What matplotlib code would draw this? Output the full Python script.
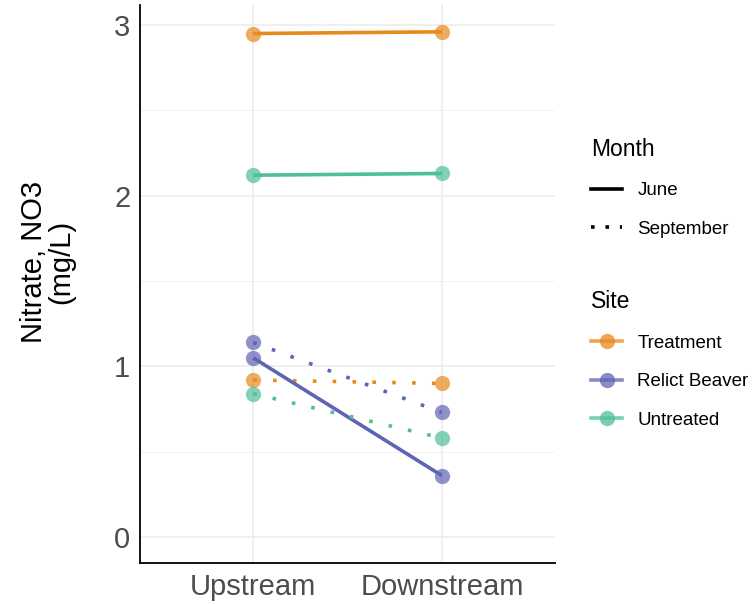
import numpy as np
import matplotlib.pyplot as plt
from matplotlib.lines import Line2D

plt.rcParams['font.family'] = ['Liberation Sans', 'DejaVu Sans']

positions = ['Upstream', 'Downstream']
sites = ['Treatment', 'Relict Beaver', 'Untreated']
colors = ['#E8891C', '#5F64B3', '#4FBF9A']

# nitrate (mg/L), [Upstream, Downstream]
june = {
    'Treatment': [2.95, 2.96],
    'Relict Beaver': [1.05, 0.36],
    'Untreated': [2.12, 2.13],
}
september = {
    'Treatment': [0.92, 0.90],
    'Relict Beaver': [1.14, 0.73],
    'Untreated': [0.84, 0.58],
}

fig = plt.figure(figsize=(7.54, 6.04), dpi=100)
ax = fig.add_axes([0.1857, 0.0679, 0.5504, 0.9238])

x = np.arange(1, len(positions) + 1)
dotted = (0, (1, 4.5))
for site, c in zip(sites, colors):
    ax.plot(x, september[site], color=c, lw=2.6, linestyle=dotted, zorder=3)
    ax.plot(x, september[site], 'o', color=c, ms=11, alpha=0.7, mec='none', zorder=4)
    ax.plot(x, june[site], color=c, lw=2.6, solid_capstyle='butt', zorder=3)
    ax.plot(x, june[site], 'o', color=c, ms=11, alpha=0.7, mec='none', zorder=4)

ax.set_xlim(0.4, 2.6)
ax.set_ylim(-0.152, 3.117)
ax.set_xticks(x)
ax.set_xticklabels(positions)
ax.set_yticks([0, 1, 2, 3])
ax.set_yticks([0.5, 1.5, 2.5], minor=True)
ax.tick_params(axis='both', length=0, labelsize=21, labelcolor='#4D4D4D', pad=7)
ax.tick_params(axis='y', which='minor', length=0)
ax.grid(True, which='major', color='#EBEBEB', lw=1.1)
ax.grid(True, which='minor', axis='y', color='#F2F2F2', lw=0.7)
ax.set_axisbelow(True)
for s in ['top', 'right']:
    ax.spines[s].set_visible(False)
for s in ['left', 'bottom']:
    ax.spines[s].set_linewidth(1.3)
    ax.spines[s].set_color('black')
ax.set_ylabel('Nitrate, NO3\n(mg/L)', fontsize=21, linespacing=1.0)
ax.yaxis.set_label_coords(-0.155, 0.54)

month_handles = [Line2D([], [], color='black', lw=2.6),
                 Line2D([], [], color='black', lw=2.6, linestyle=(0, (1, 3)))]
leg1 = fig.legend(month_handles, ['June', 'September'], title='Month',
                  loc='upper left', bbox_to_anchor=(0.762, 0.80),
                  frameon=False, fontsize=13.5, title_fontsize=16.5,
                  handlelength=1.65, handletextpad=0.8, labelspacing=1.15,
                  alignment='left')

site_handles = [Line2D([], [], color=c, lw=2.6, marker='o', ms=11,
                       markerfacecolor=c, mec='none', alpha=0.75) for c in colors]
leg2 = fig.legend(site_handles, sites, title='Site',
                  loc='upper left', bbox_to_anchor=(0.762, 0.548),
                  frameon=False, fontsize=13.5, title_fontsize=16.5,
                  handlelength=1.65, handletextpad=0.8, labelspacing=1.15,
                  alignment='left')

fig.savefig('out.png', dpi=100)
